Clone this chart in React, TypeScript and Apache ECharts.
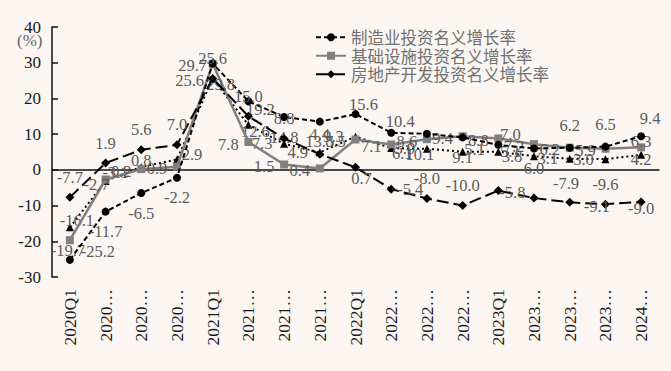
import React, { useEffect, useRef } from "react";
import * as echarts from "echarts";

const categories = [
  "2020Q1", "2020Q1-Q2", "2020Q1-Q3", "2020Q1-Q4",
  "2021Q1", "2021Q1-Q2", "2021Q1-Q3", "2021Q1-Q4",
  "2022Q1", "2022Q1-Q2", "2022Q1-Q3", "2022Q1-Q4",
  "2023Q1", "2023Q1-Q2", "2023Q1-Q3", "2023Q1-Q4",
  "2024Q1-Q2",
];

const manufacturing = [-25.2, -11.7, -6.5, -2.2, 29.8, 19.2, 14.8, 13.5, 15.6, 10.4, 10.1, 9.1, 7.0, 6.0, 6.2, 6.5, 9.4];
const infrastructure = [-19.7, -2.7, 0.2, 0.9, 29.7, 7.8, 1.5, 0.4, 8.5, 7.1, 8.6, 9.4, 8.8, 7.2, 6.2, 5.9, 6.3];
const realEstate = [-7.7, 1.9, 5.6, 7.0, 25.6, 15.0, 8.8, 4.4, 0.7, -5.4, -8.0, -10.0, -5.8, -7.9, -9.1, -9.6, -9.0];
const totalFixed = [-16.1, -3.1, 0.8, 2.9, 25.6, 12.6, 7.3, 4.9, 9.3, 6.1, 5.9, 5.1, 5.1, 3.8, 3.1, 3.0, 4.2];

const seriesNames = ["制造业投资名义增长率", "基础设施投资名义增长率", "房地产开发投资名义增长率", "固定资产投资名义增长率"];

const yMin = -30;
const yMax = 40;
const yInterval = 10;

// label placement (style): default centre offset from the point, plus per-point overrides
type Off = [number, number];
const labelPlacement: { def: Off; over: Record<number, Off> }[] = [
  { def: [0, 20], over: { 0: [28, -8], 4: [8, 21], 5: [12, 8], 8: [8, -10], 9: [9, -11], 10: [-7, 21], 12: [12, -10], 14: [0, -22], 15: [0, -22], 16: [9, -18] } },
  { def: [-20, 2], over: { 0: [-2, 10], 1: [-9, 5], 16: [0, -6] } },
  { def: [0, -20], over: { 8: [6, 11], 9: [19, 0], 12: [14, 2], 13: [32, -15], 14: [27, 4], 16: [0, 6] } },
  { def: [-22, 0], over: { 0: [7, -7], 1: [10, -8], 2: [0, -7], 3: [15, -5], 4: [-23, 2], 5: [7, 7], 9: [11, 5], 11: [12, -2], 12: [12, 0], 16: [0, 5] } },
];

export default function App() {
  const ref = useRef<HTMLDivElement>(null);
  useEffect(() => {
    document.body.style.margin = "0";
    if (!ref.current) return;
    const chart = echarts.init(ref.current, null, { renderer: "svg" });
    const labelFont = {
      fontFamily: "Liberation Serif",
      fontSize: 16.5,
      color: "#5a5a5a",
    };
    const fmt = (p: any) => Number(p.value).toFixed(1);
    const build = (values: number[], si: number) =>
      values.map((v, i) => ({
        value: v,
        label: { offset: labelPlacement[si].over[i] ?? labelPlacement[si].def },
      }));
    const baseLabel = { show: true, position: "inside", formatter: fmt, ...labelFont };
    chart.setOption({
      animation: false,
      backgroundColor: "#fcf6f3",
      grid: { left: 52, right: 12, top: 27, bottom: 94, containLabel: false },
      legend: {
        data: seriesNames.slice(0, 3),
        orient: "vertical",
        left: 310,
        top: 24,
        itemWidth: 30,
        itemHeight: 10,
        itemGap: 2,
        textStyle: {
          fontFamily: "Noto Sans CJK SC",
          fontSize: 16.5,
          color: "#707070",
        },
      },
      graphic: [
        {
          type: "text",
          left: 17,
          top: 32,
          z: 10,
          style: {
            text: "(%)",
            fontFamily: "Liberation Serif",
            fontSize: 17,
            fill: "#666666",
          },
        },
      ],
      xAxis: {
        type: "category",
        data: categories,
        boundaryGap: true,
        axisLine: { lineStyle: { color: "#111", width: 1.5 } },
        axisTick: { inside: true, length: 6, lineStyle: { color: "#111", width: 1.5 } },
        axisLabel: {
          rotate: 90,
          interval: 0,
          margin: 12,
          fontFamily: "Liberation Serif",
          fontSize: 17.5,
          color: "#1a1a1a",
          formatter: (v: string) => (v.length > 6 ? v.slice(0, 4) + "…" : v),
        },
        splitLine: { show: false },
      },
      yAxis: {
        type: "value",
        min: yMin,
        max: yMax,
        interval: yInterval,
        axisLine: { show: true, lineStyle: { color: "#111", width: 1.5 } },
        axisTick: { show: true, inside: true, length: 6, lineStyle: { color: "#111", width: 1.5 } },
        axisLabel: {
          margin: 11,
          showMaxLabel: true,
          fontFamily: "Liberation Serif",
          fontSize: 17,
          color: "#1a1a1a",
        },
        splitLine: { show: false },
      },
      series: [
        {
          name: seriesNames[0],
          type: "line",
          data: build(manufacturing, 0),
          symbol: "circle",
          symbolSize: 8,
          itemStyle: { color: "#000" },
          lineStyle: { color: "#000", width: 2, type: [5, 3] },
          label: baseLabel,
          z: 4,
        },
        {
          name: seriesNames[1],
          type: "line",
          data: build(infrastructure, 1),
          symbol: "rect",
          symbolSize: 8,
          itemStyle: { color: "#808080" },
          lineStyle: { color: "#808080", width: 2.5 },
          label: baseLabel,
          z: 3,
        },
        {
          name: seriesNames[2],
          type: "line",
          data: build(realEstate, 2),
          symbol: "diamond",
          symbolSize: 9,
          itemStyle: { color: "#000" },
          lineStyle: { color: "#000", width: 2, type: [12, 5] },
          label: baseLabel,
          z: 5,
        },
        {
          name: seriesNames[3],
          type: "line",
          data: build(totalFixed, 3),
          symbol: "triangle",
          symbolSize: 8,
          itemStyle: { color: "#000" },
          lineStyle: { color: "#000", width: 2, type: [2, 3] },
          label: baseLabel,
          z: 2,
        },
      ],
    });
    return () => chart.dispose();
  }, []);
  return <div ref={ref} style={{ width: 671, height: 371 }} />;
}
